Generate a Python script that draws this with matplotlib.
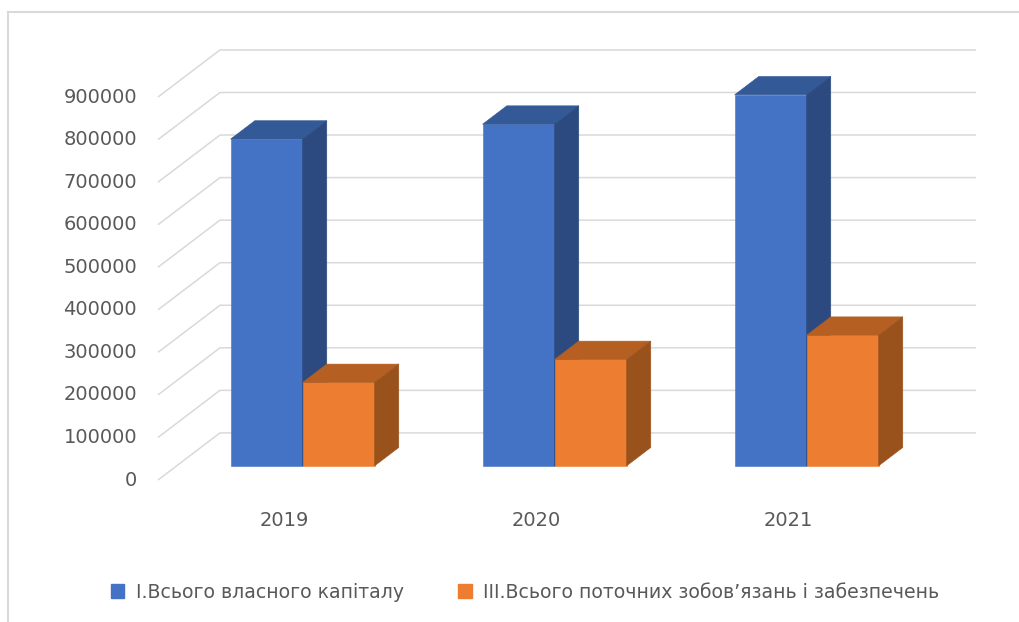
import matplotlib.pyplot as plt
from matplotlib.patches import Polygon, Patch
from matplotlib.lines import Line2D

years = ["2019", "2020", "2021"]
equity = [768000, 803000, 872000]
liabilities = [196000, 250000, 307000]
series_names = ["І.Всього власного капіталу",
                "ІІІ.Всього поточних зобов’язань і забезпечень"]
ticks = list(range(0, 1000000, 100000))

# faces: front, top, side
blue = ("#4472c4", "#335a97", "#2c4a80")
orange = ("#ed7d31", "#b55f22", "#9a521d")
grid_c = "#d9d9d9"
text_c = "#595959"

# oblique projection of the floor depth (x in category units, y in value units)
DX, DY = 0.246, 110700
Z0, Z1 = 0.30, 0.69          # bar depth span inside the floor
BAR_W = 1 / 1.75 / 2         # gap width 75%

W, H = 1020, 622
fig = plt.figure(figsize=(W / 100, H / 100), dpi=100)
ax = fig.add_axes([0, 0, 1, 1])
ax.axis("off")

# pixel layout of the plot area -> data limits
px_per_cat = 252.0
px_per_val = 42.55 / 100000
x_left_px, y_zero_px = 158, 480
ax.set_xlim(-0.5 - x_left_px / px_per_cat, -0.5 + (W - x_left_px) / px_per_cat)
ax.set_ylim((y_zero_px - H) / px_per_val, y_zero_px / px_per_val)

n = len(years)

# side wall diagonals and back wall gridlines
for t in ticks:
    ax.plot([-0.5, -0.5 + DX, n - 0.5 + DX], [t, t + DY, t + DY],
            color=grid_c, lw=1.1, solid_capstyle="butt", zorder=1)
    ax.text(-0.583, t, f"{t}", ha="right", va="center", fontsize=14,
            color=text_c)


def bar3d(x0, x1, v, cols):
    ox0, oy0 = Z0 * DX, Z0 * DY
    ox1, oy1 = Z1 * DX, Z1 * DY
    front = [(x0 + ox0, oy0), (x1 + ox0, oy0), (x1 + ox0, v + oy0), (x0 + ox0, v + oy0)]
    top = [(x0 + ox0, v + oy0), (x1 + ox0, v + oy0), (x1 + ox1, v + oy1), (x0 + ox1, v + oy1)]
    side = [(x1 + ox0, oy0), (x1 + ox1, oy1), (x1 + ox1, v + oy1), (x1 + ox0, v + oy0)]
    for pts, c in zip((front, top, side), cols):
        ax.add_patch(Polygon(pts, closed=True, facecolor=c, edgecolor=c,
                             lw=0.4, zorder=3))


for i in range(n):
    x0 = i - BAR_W
    bar3d(x0, x0 + BAR_W, equity[i], blue)
    bar3d(x0 + BAR_W, x0 + 2 * BAR_W, liabilities[i], orange)
    ax.text(i, -95000, years[i], ha="center", va="center", fontsize=14,
            color=text_c)

handles = [Patch(facecolor=blue[0], edgecolor=blue[0]),
           Patch(facecolor=orange[0], edgecolor=orange[0])]
fig.legend(handles, series_names, loc="center", ncol=2,
           bbox_to_anchor=(525 / W, 1 - 592 / H), frameon=False,
           fontsize=13.6, labelcolor=text_c, handlelength=0.7,
           handleheight=0.7, handletextpad=0.6, columnspacing=2.9)

# chart area border (top and left edges visible)
fig.add_artist(Line2D([8 / W, 1], [1 - 12 / H, 1 - 12 / H],
                      transform=fig.transFigure, color=grid_c, lw=1.5))
fig.add_artist(Line2D([8 / W, 8 / W], [0, 1 - 12 / H],
                      transform=fig.transFigure, color=grid_c, lw=1.5))

fig.savefig("out.png", dpi=100)
